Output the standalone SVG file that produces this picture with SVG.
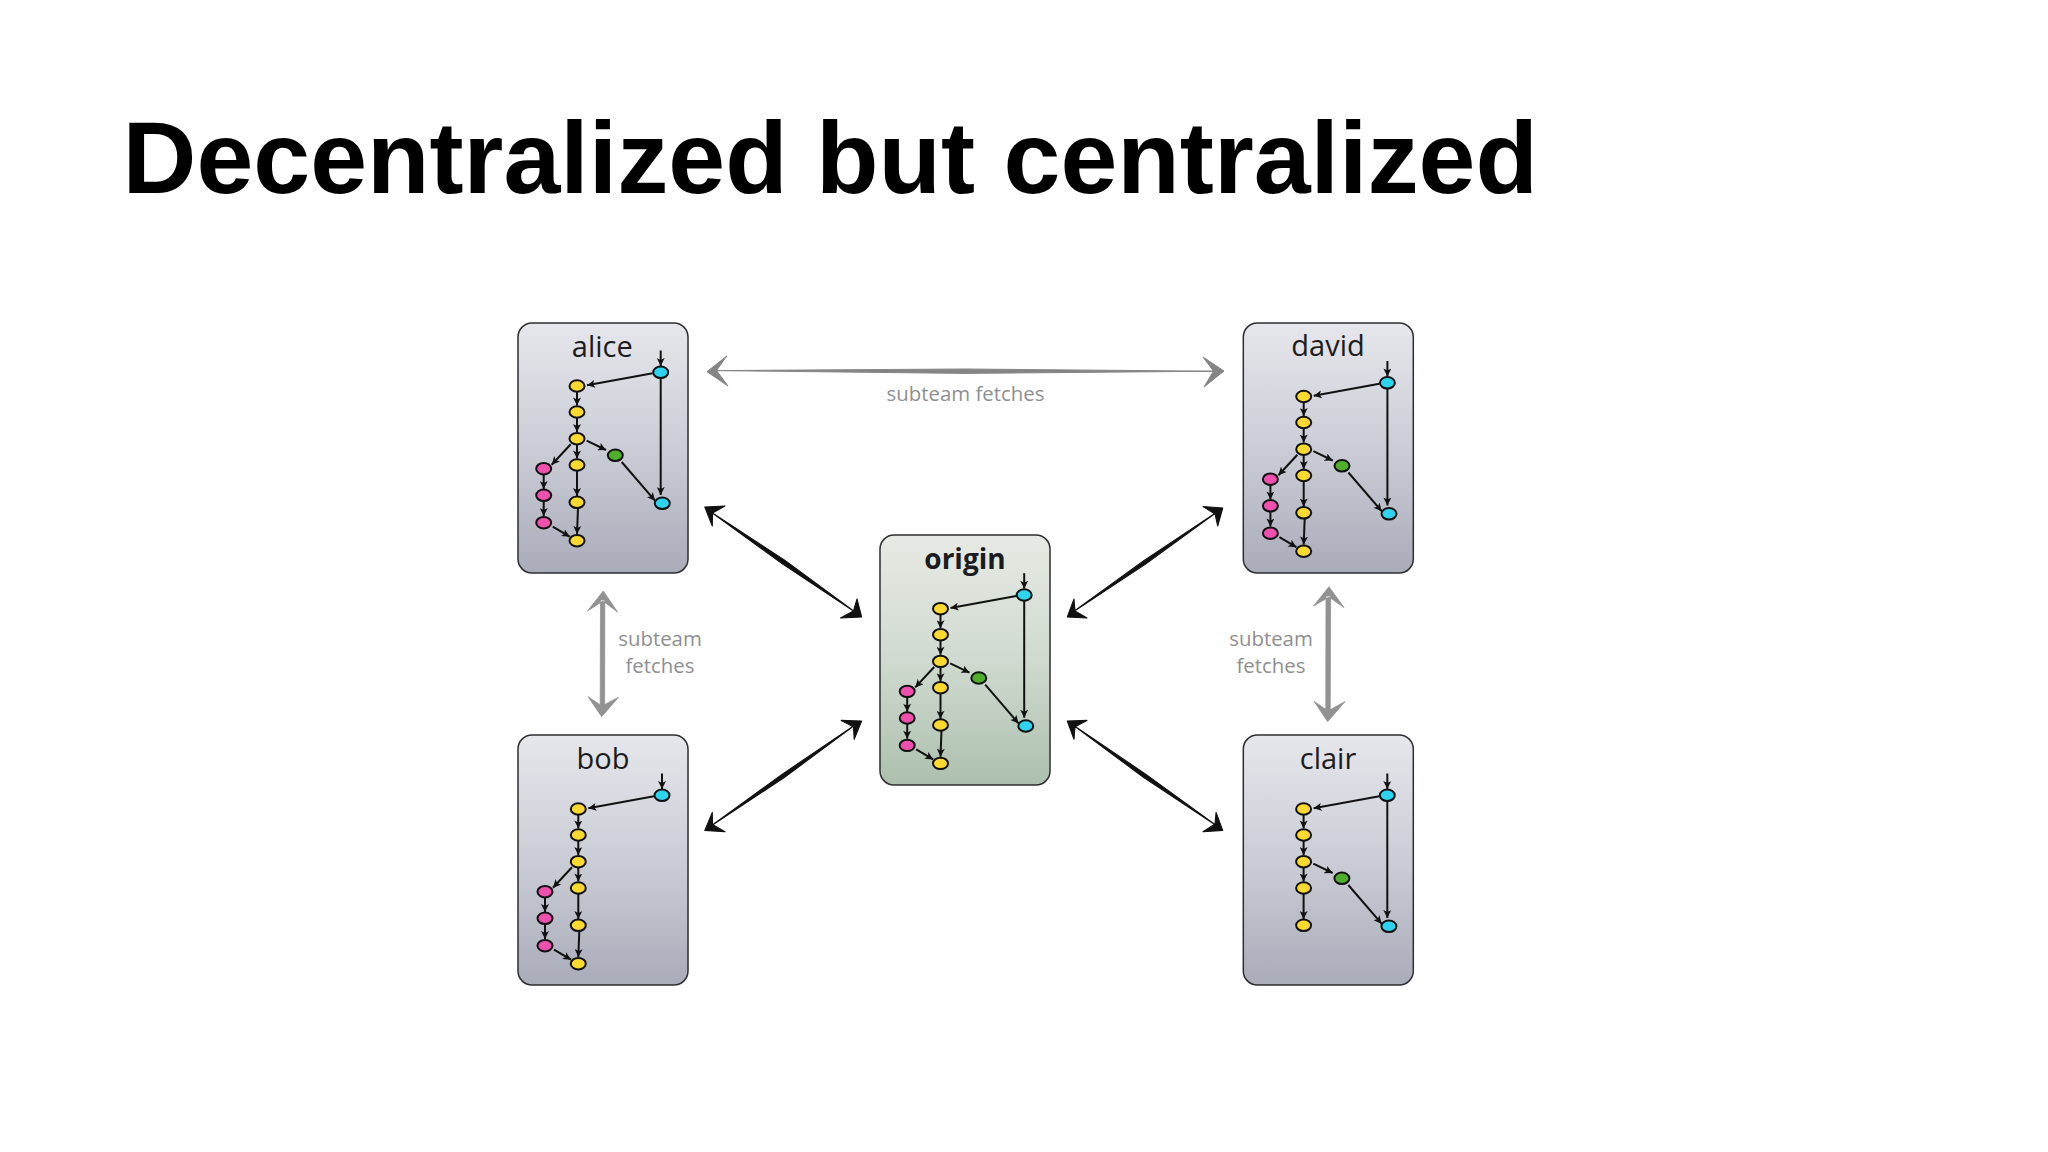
<svg xmlns="http://www.w3.org/2000/svg" width="2048" height="1152" viewBox="0 0 2048 1152">
<style>
.box{stroke:#2e2e32;stroke-width:1.5}
.name{font-family:"Open Sans","Noto Sans",sans-serif;font-size:29px;fill:#1c1c1e;text-anchor:middle}
.note{font-family:"Open Sans","Noto Sans",sans-serif;font-size:20.4px;fill:#8f8f92;text-anchor:middle}
.title{font-family:"Liberation Sans",Arial,sans-serif;font-weight:bold;font-size:102.3px;fill:#000}
.e{stroke:#111;stroke-width:2;fill:none;marker-end:url(#tip)}
.c{stroke:#111;stroke-width:2;rx:7.5px;ry:5.7px}
.cy{fill:#2dd3ef}.ye{fill:#fbd92e}.pk{fill:#ef50ae}.gr{fill:#4fae2a}
.black{fill:#111;stroke:#111;stroke-width:1.1;stroke-linejoin:round}
.gray{fill:#858585;stroke:#858585;stroke-width:1;stroke-linejoin:round}
.gray2{fill:#929292;stroke:#929292;stroke-width:.8;stroke-linejoin:round}
</style>
<defs>
<marker id="tip" markerUnits="userSpaceOnUse" viewBox="0 0 10 10" refX="10" refY="5" markerWidth="8.5" markerHeight="8" orient="auto"><path d="M0 0L10 5L0 10L2.5 5Z" fill="#111"/></marker>
<linearGradient id="bg" x1="0" y1="0" x2="0" y2="1"><stop offset="0" stop-color="#e6e7ec"/><stop offset=".5" stop-color="#cbcdd6"/><stop offset="1" stop-color="#a9acb9"/></linearGradient>
<linearGradient id="gg" x1="0" y1="0" x2="0" y2="1"><stop offset="0" stop-color="#e7eae4"/><stop offset=".5" stop-color="#d0dad0"/><stop offset="1" stop-color="#acc0ad"/></linearGradient>
<g id="trunk">
<path class="e" d="M660.7 350.5V366"/>
<path class="e" d="M652.7 373.3L587 385.3"/>
<path class="e" d="M577 392V405.5"/>
<path class="e" d="M577 418V432"/>
<path class="e" d="M577 445V458.5"/>
<path class="e" d="M577 471V496"/>
<ellipse class="c cy" cx="660.7" cy="372.3"/>
<ellipse class="c ye" cx="577" cy="386"/>
<ellipse class="c ye" cx="577" cy="412"/>
<ellipse class="c ye" cx="577" cy="438.7"/>
<ellipse class="c ye" cx="577" cy="465"/>
<ellipse class="c ye" cx="577" cy="502.3"/>
</g>
<g id="pinks">
<path class="e" d="M570.7 444.3L551.7 464.7"/>
<path class="e" d="M543.7 474.5V489"/>
<path class="e" d="M543.7 501V516"/>
<path class="e" d="M578 507.7L577 534"/>
<path class="e" d="M552.7 526.7L569.7 536.7"/>
<ellipse class="c pk" cx="543.7" cy="468.7"/>
<ellipse class="c pk" cx="543.7" cy="495.3"/>
<ellipse class="c pk" cx="543.7" cy="522.7"/>
<ellipse class="c ye" cx="577" cy="540.7"/>
</g>
<g id="greens">
<path class="e" d="M586.7 440.7L606 450"/>
<path class="e" d="M660.7 378V495"/>
<path class="e" d="M621.7 462L655 500.7"/>
<ellipse class="c gr" cx="615.3" cy="455.3"/>
<ellipse class="c cy" cx="662.3" cy="503.3"/>
</g>
</defs>
<rect width="2048" height="1152" fill="#fff"/>
<text class="title" x="122.5" y="193.2">Decentralized but centralized</text>

<g id="connectors">
<path id="alice-david" class="gray" d="M707 371.7L726.8 356L716.5 370.5L728 386ZM716 370.6L965 369L1214 371.2L965 373.4ZM1224 371L1203 357L1213.5 371.2L1204 387Z"/>
<path id="alice-bob" class="gray2" d="M603.3 591L587.5 611L603 601L617.5 612ZM600.5 600L604.8 600L604.6 708L600.2 708ZM601.7 716.7L588 696.7L602 706L618.5 697.2Z"/>
<path id="david-clair" class="gray2" d="M1329 586.7L1313.5 606L1329 597L1344 607.5ZM1326 596L1330.6 596L1330.2 712L1325.8 712ZM1327.7 721.7L1314 701.2L1328 711L1345 701.5Z"/>
<path id="alice-origin" class="black" d="M704.8 507L725 506L712.5 513L712.3 526ZM711 512L782.4 563.9L855 612L784.6 560.1ZM861.6 617L840.5 618L853.5 611L857 599Z"/>
<path id="david-origin" class="black" d="M1222.7 508L1203 506.5L1215 514L1217.7 526ZM1217 512L1145.6 564.1L1073 612L1143.4 560.9ZM1067.3 617L1087 618L1075 611L1074 599Z"/>
<path id="bob-origin" class="black" d="M704.8 830.4L725 831.8L712.5 824.4L712.3 812.4ZM711 826L784.6 777.3L855 725L782.4 774.1ZM861.6 721L841.2 720.4L853.5 726.7L854.2 739.3Z"/>
<path id="clair-origin" class="black" d="M1222.7 830.4L1203 831.8L1215 824L1216.1 812.4ZM1217 826L1143.4 777.3L1073 725L1145.6 774.1ZM1067.3 721L1087 720.4L1075 726.7L1074 739.3Z"/>
<text class="note" x="965.5" y="400.5">subteam fetches</text>
<text class="note" x="660" y="646">subteam</text>
<text class="note" x="660" y="673">fetches</text>
<text class="note" x="1271" y="646">subteam</text>
<text class="note" x="1271" y="673">fetches</text>
</g>

<g id="alice">
<rect class="box" x="518" y="323" width="170" height="250" rx="14" fill="url(#bg)"/>
<text class="name" x="602.3" y="357">alice</text>
<use href="#trunk"/><use href="#pinks"/><use href="#greens"/>
</g>
<g id="bob">
<rect class="box" x="518" y="735" width="170" height="250" rx="14" fill="url(#bg)"/>
<text class="name" x="603" y="769">bob</text>
<g transform="translate(1.3 423)"><use href="#trunk"/><use href="#pinks"/></g>
</g>
<g id="origin">
<rect class="box" x="880" y="535" width="170" height="250" rx="14" fill="url(#gg)"/>
<text class="name" x="965" y="568.5" style="font-weight:700;font-size:28px">origin</text>
<g transform="translate(363.5 222.7)"><use href="#trunk"/><use href="#pinks"/><use href="#greens"/></g>
</g>
<g id="david">
<rect class="box" x="1243.3" y="323" width="170" height="250" rx="14" fill="url(#bg)"/>
<text class="name" x="1328" y="356">david</text>
<g transform="translate(726.7 10.5)"><use href="#trunk"/><use href="#pinks"/><use href="#greens"/></g>
</g>
<g id="clair">
<rect class="box" x="1243.3" y="735" width="170" height="250" rx="14" fill="url(#bg)"/>
<text class="name" x="1328" y="769">clair</text>
<g transform="translate(726.6 423)"><use href="#trunk"/><use href="#greens"/></g>
</g>
</svg>
